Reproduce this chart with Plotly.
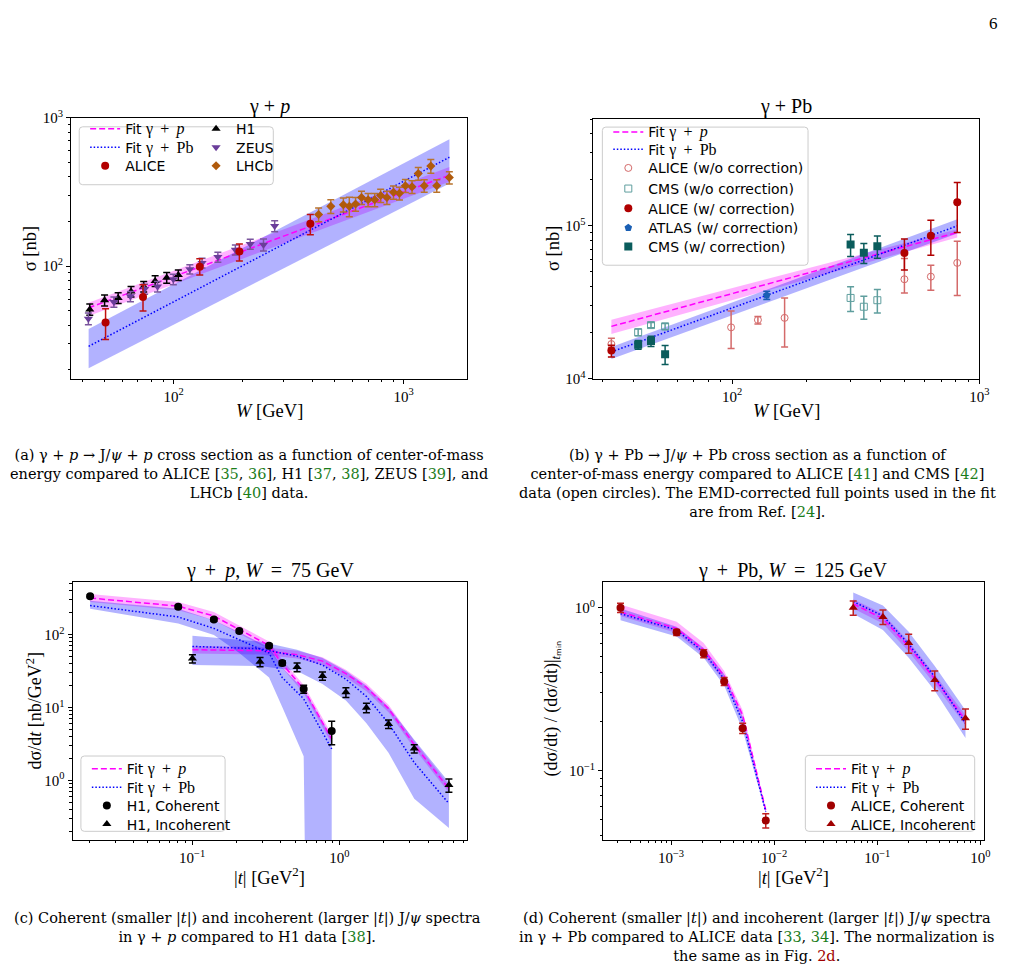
import numpy as np
import plotly.graph_objects as go

# ---------------- Panel (a): gamma + p, sigma vs W ----------------
a_fit_W = [42.7, 1580.0]
a_fit_p = [52.4, 411.0]
a_fit_p_lo = [46.1, 372.0]
a_fit_p_hi = [56.6, 467.0]
a_fit_pb = [28.8, 543.0]
a_fit_pb_lo = [20.5, 361.0]
a_fit_pb_hi = [37.7, 718.0]

a_h1_W = [43.2, 50.1, 57.4, 65.3, 74.1, 83.1, 93.3, 104.8]
a_h1_sig = [51.1, 58.9, 61.1, 67.6, 73.0, 79.6, 83.7, 87.2]
a_h1_err = [4.5, 5.0, 5.0, 5.5, 6.0, 6.5, 7.0, 7.0]

a_zeus_W = [42.6, 55.0, 64.9, 74.8, 85.1, 99.7, 117.6, 132.9, 155.7, 185.5, 215.3, 245.8, 274.9]
a_zeus_sig = [44.3, 57.4, 62.6, 70.1, 73.0, 81.6, 95.5, 105.2, 115.3, 128.9, 141.3, 139.8, 186.8]
a_zeus_err = [4.0, 4.5, 5.0, 5.5, 6.0, 6.5, 7.0, 8.0, 9.0, 10.0, 11.0, 13.0, 16.0]

a_alice_W = [50.6, 73.6, 129.9, 193.1, 392.8]
a_alice_sig = [41.7, 62.0, 99.0, 125.7, 193.6]
a_alice_eplus = [10.0, 12.9, 13.4, 15.6, 29.4]
a_alice_eminus = [9.7, 12.2, 11.8, 17.2, 30.7]

a_lhcb_W = [426.7, 482.2, 546.7, 580.2, 617.8, 655.6, 700.3, 748.2, 794.0, 845.5,
            903.0, 958.5, 1017.0, 1087.0, 1157.0, 1228.0, 1312.0, 1392.0, 1579.0]
a_lhcb_sig = [223.3, 253.5, 260.0, 253.5, 262.7, 290.8, 280.6, 280.6, 299.8, 290.8,
              315.4, 310.6, 349.1, 343.9, 421.4, 349.1, 473.7, 349.1, 396.4]
a_lhcb_err = [24, 27, 28, 38, 28, 30, 29, 29, 31, 30,
              32, 31, 35, 34, 42, 34, 50, 34, 38]

# ---------------- Panel (b): gamma + Pb, sigma vs W ----------------
b_fit_W = [32.5, 814.0]
b_fit_p = [22020, 90600]
b_fit_p_lo = [19660, 84100]
b_fit_p_hi = [24300, 95200]
b_fit_pb = [14990, 100000]
b_fit_pb_lo = [13450, 89300]
b_fit_pb_hi = [16150, 110400]

b_alice_raw_W = [32.5, 99.1, 127.2, 163.1, 497.7, 636.6, 814.0]
b_alice_raw_sig = [16870, 21700, 24300, 25030, 44780, 46580, 57300]
b_alice_raw_eplus = [1570, 6060, 1240, 8770, 16320, 8720, 22000]
b_alice_raw_eminus = [930, 5920, 1500, 8880, 8370, 8680, 22200]

b_cms_raw_W = [41.7, 47.0, 53.6, 301.5, 341.1, 386.8]
b_cms_raw_sig = [20150, 22450, 22020, 33800, 29600, 32660]
b_cms_raw_err = [1000, 900, 1000, 6200, 5100, 5700]

b_alice_W = [32.5, 497.7, 636.6, 814.0]
b_alice_sig = [15290, 66440, 86260, 142600]
b_alice_eplus = [1260, 15690, 22440, 50000]
b_alice_eminus = [1390, 15040, 22060, 52000]

b_atlas_W = [138.1]
b_atlas_sig = [35160]
b_atlas_err = [2150]

b_cms_W = [41.7, 47.0, 53.6, 301.5, 341.1, 386.8]
b_cms_sig = [16700, 17640, 14480, 75500, 66770, 73670]
b_cms_err = [1100, 1350, 2060, 12500, 9900, 12300]

# ---------------- Panel (c): gamma + p, W = 75 GeV, dsigma/dt ----------------
c_coh_t = [0.0203, 0.0805, 0.1406, 0.2092, 0.3332, 0.4093, 0.5723, 0.8872]
c_coh_fit_p = [317.7, 245.5, 180.0, 117.8, 71.0, 39.8, 17.98, 3.70]
c_coh_fit_p_lo = [280.0, 216.0, 158.0, 104.0, 62.5, 35.0, 15.8, 3.2]
c_coh_fit_p_hi = [360.0, 279.0, 204.0, 134.0, 80.5, 45.2, 20.4, 4.3]
c_coh_fit_pb = [250.4, 174.5, 121.6, 84.7, 56.0, 25.8, 13.2, 2.72]
c_coh_fit_pb_lo = [225.9, 142.0, 98.9, 56.0, 25.8, 10.2, 2.16, 0.0]
c_coh_fit_pb_hi = [292.4, 225.9, 157.4, 107.4, 66.8, 35.2, 17.98, 3.9]

c_inc_t = [0.1005, 0.2894, 0.5161, 0.7684, 1.108, 1.527, 2.157, 3.226, 5.546]
c_inc_fit_p = [62.1, 60.3, 53.2, 43.3, 29.2, 18.9, 9.67, 3.1, 0.77]
c_inc_fit_p_lo = [55.0, 53.5, 47.2, 38.4, 25.9, 16.8, 8.6, 2.75, 0.68]
c_inc_fit_p_hi = [70.0, 68.0, 60.0, 49.0, 33.0, 21.3, 10.9, 3.5, 0.87]
c_inc_fit_pb = [68.9, 64.0, 50.5, 38.2, 24.5, 14.2, 6.08, 1.76, 0.484]
c_inc_fit_pb_lo = [38.2, 37.1, 31.7, 21.0, 12.5, 6.08, 2.40, 0.565, 0.223]
c_inc_fit_pb_hi = [96.8, 80.4, 62.1, 48.0, 31.7, 19.9, 10.2, 3.63, 0.947]

c_h1_coh_t = [0.0203, 0.0805, 0.1406, 0.2092, 0.3332, 0.4093, 0.5723, 0.8872]
c_h1_coh_val = [334.5, 240.4, 160.7, 111.9, 70.3, 40.7, 17.98, 4.79]
c_h1_coh_err = [15.0, 12.0, 8.0, 6.0, 4.0, 3.0, 2.2, 1.7]

c_h1_inc_t = [0.1005, 0.2894, 0.5161, 0.7684, 1.108, 1.527, 2.157, 3.226, 5.546]
c_h1_inc_val = [46.99, 42.4, 35.9, 27.2, 16.2, 9.98, 5.95, 2.74, 0.871]
c_h1_inc_err = [6.0, 6.0, 5.0, 3.5, 2.5, 1.5, 0.8, 0.35, 0.18]

# ---------------- Panel (d): gamma + Pb, W = 125 GeV, normalised ----------------
d_coh_t = [3.235e-4, 1.133e-3, 2.074e-3, 3.275e-3, 4.95e-3, 8.29e-3]
d_coh_val = [1.0, 0.707, 0.5235, 0.3533, 0.1824, 0.0495]
d_coh_err = [0.065, 0.03, 0.03, 0.02, 0.013, 0.005]
d_coh_fit_p = [0.942, 0.747, 0.553, 0.382, 0.2195, 0.0574]
d_coh_fit_p_lo = [0.89, 0.70, 0.51, 0.355, 0.205, 0.0555]
d_coh_fit_p_hi = [1.047, 0.82, 0.607, 0.41, 0.235, 0.0588]
d_coh_fit_pb = [0.92, 0.730, 0.533, 0.365, 0.2, 0.0561]
d_coh_fit_pb_lo = [0.839, 0.666, 0.493, 0.333, 0.178, 0.0549]
d_coh_fit_pb_hi = [0.99, 0.765, 0.566, 0.391, 0.2146, 0.0574]

d_inc_t = [0.0585, 0.1136, 0.2020, 0.3615, 0.7178]
d_inc_val = [1.0, 0.879, 0.607, 0.36, 0.2096]
d_inc_err = [0.1, 0.09, 0.08, 0.05, 0.03]
d_inc_fit_p = [1.057, 0.858, 0.579, 0.365, 0.205]
d_inc_fit_p_lo = [0.99, 0.80, 0.54, 0.34, 0.19]
d_inc_fit_p_hi = [1.13, 0.92, 0.62, 0.39, 0.22]
d_inc_fit_pb = [1.092, 0.891, 0.598, 0.377, 0.1955]
d_inc_fit_pb_lo = [0.92, 0.73, 0.493, 0.31, 0.1588]
d_inc_fit_pb_hi = [1.243, 1.033, 0.714, 0.439, 0.235]

# ---------------- styling ----------------
W_PX, H_PX = 1024, 979
PINK = '#ff00ff'
BLUE = '#0000ff'
PINK_BAND = 'rgba(255,0,255,0.30)'
BLUE_BAND = 'rgba(0,0,255,0.30)'
SERIF = 'Liberation Serif'
CAP_SERIF = 'DejaVu Serif'
SANS = 'DejaVu Sans'
GREEN = '#1b7d1b'
DARKRED = '#a00000'
TS = '\u2009'


def px(x):
    return x / W_PX


def py(y):
    return 1 - y / H_PX


FIT_P = f"Fit <span style='font-family:Liberation Serif;font-size:16px'>γ{TS} +{TS} <i>p</i></span>"
FIT_PB = f"Fit <span style='font-family:Liberation Serif;font-size:16px'>γ{TS} +{TS} Pb</span>"

fig = go.Figure()

# each legend row is its own legend box so that rows sit exactly where the reference puts them
legend_rows = {}   # legend id -> (text-left px, row-centre px)
_leg_counter = [0]


def new_legend(x_text, y_center):
    _leg_counter[0] += 1
    n = _leg_counter[0]
    lid = 'legend' if n == 1 else f'legend{n}'
    legend_rows[lid] = (x_text, y_center)
    return lid


def add_band(x, lo, hi, color, xa, ya):
    lo = np.clip(np.asarray(lo, dtype=float), 1e-30, None)
    hi = np.asarray(hi, dtype=float)
    xs = list(x) + list(x)[::-1]
    ys = list(hi) + list(lo[::-1])
    fig.add_trace(go.Scatter(x=xs, y=ys, mode='lines', fill='toself', fillcolor=color,
                             line=dict(width=0, color=color), showlegend=False,
                             hoverinfo='skip', xaxis=xa, yaxis=ya))


def add_line(x, y, color, dash, name, legend, xa, ya):
    fig.add_trace(go.Scatter(x=x, y=y, mode='lines', name=name,
                             line=dict(color=color, width=1.5, dash=dash),
                             showlegend=legend is not None, legend=legend or 'legend',
                             xaxis=xa, yaxis=ya))


def add_data(x, y, ep, em, symbol, color, size, name, legend, xa, ya,
             ecolor=None, lw=0):
    fig.add_trace(go.Scatter(
        x=x, y=y, mode='markers', name=name,
        marker=dict(symbol=symbol, size=size, color=color,
                    line=dict(width=lw, color=color)),
        error_y=dict(type='data', array=ep, arrayminus=em, symmetric=False,
                     color=ecolor or color, thickness=1.5, width=3.5),
        legend=legend, xaxis=xa, yaxis=ya))


DASH_P = '6px,3px'
DASH_PB = '1.5px,2px'

# vertical correction for the per-row legends (empirical, from earlier renders)
DY_TOP = -7
DY_BOT = 4

# Panel (a)
la1 = [new_legend(121, y + DY_TOP) for y in (128.3, 147.3, 166.0)]
la2 = [new_legend(233, y + DY_TOP) for y in (128.3, 147.3, 166.0)]
add_band(a_fit_W, a_fit_p_lo, a_fit_p_hi, PINK_BAND, 'x', 'y')
add_band(a_fit_W, a_fit_pb_lo, a_fit_pb_hi, BLUE_BAND, 'x', 'y')
add_line(a_fit_W, a_fit_p, PINK, DASH_P, FIT_P, la1[0], 'x', 'y')
add_line(a_fit_W, a_fit_pb, BLUE, DASH_PB, FIT_PB, la1[1], 'x', 'y')
add_data(a_h1_W, a_h1_sig, a_h1_err, a_h1_err, 'triangle-up', 'black', 8,
         'H1', la2[0], 'x', 'y')
add_data(a_zeus_W, a_zeus_sig, a_zeus_err, a_zeus_err, 'triangle-down', '#6a3d9a', 8,
         'ZEUS', la2[1], 'x', 'y', ecolor='#7a559e')
add_data(a_lhcb_W, a_lhcb_sig, a_lhcb_err, a_lhcb_err, 'diamond', '#b05a0c', 7,
         'LHCb', la2[2], 'x', 'y', ecolor='#b8732e')
add_data(a_alice_W, a_alice_sig, a_alice_eplus, a_alice_eminus, 'circle', '#b30000', 8,
         'ALICE', la1[2], 'x', 'y', ecolor='#c01010')

# Panel (b)
lb = [new_legend(649.3, y + DY_TOP + 1) for y in (130.7, 148.3, 167.3, 188.3, 208.3, 228.3, 247.3)]
add_band(b_fit_W, b_fit_p_lo, b_fit_p_hi, PINK_BAND, 'x2', 'y2')
add_band(b_fit_W, b_fit_pb_lo, b_fit_pb_hi, BLUE_BAND, 'x2', 'y2')
add_line(b_fit_W, b_fit_p, PINK, DASH_P, FIT_P, lb[0], 'x2', 'y2')
add_line(b_fit_W, b_fit_pb, BLUE, DASH_PB, FIT_PB, lb[1], 'x2', 'y2')
add_data(b_alice_raw_W, b_alice_raw_sig, b_alice_raw_eplus, b_alice_raw_eminus,
         'circle-open', '#d46a6a', 7, 'ALICE (w/o correction)', lb[2], 'x2', 'y2', lw=1)
add_data(b_cms_raw_W, b_cms_raw_sig, b_cms_raw_err, b_cms_raw_err,
         'square-open', '#5f9e9e', 7, 'CMS (w/o correction)', lb[3], 'x2', 'y2', lw=1)
add_data(b_alice_W, b_alice_sig, b_alice_eplus, b_alice_eminus,
         'circle', '#b00000', 8, 'ALICE (w/ correction)', lb[4], 'x2', 'y2')
add_data(b_atlas_W, b_atlas_sig, b_atlas_err, b_atlas_err,
         'pentagon', '#1a5fb4', 8, 'ATLAS (w/ correction)', lb[5], 'x2', 'y2')
add_data(b_cms_W, b_cms_sig, b_cms_err, b_cms_err,
         'square', '#0a5c5c', 8, 'CMS (w/ correction)', lb[6], 'x2', 'y2')

# Panel (c)
lc = [new_legend(122.7, y + DY_BOT) for y in (769.3, 788.3, 806.7, 825.7)]
add_band(c_coh_t, c_coh_fit_p_lo, c_coh_fit_p_hi, PINK_BAND, 'x3', 'y3')
add_band(c_inc_t, c_inc_fit_p_lo, c_inc_fit_p_hi, PINK_BAND, 'x3', 'y3')
add_band(c_coh_t, c_coh_fit_pb_lo, c_coh_fit_pb_hi, BLUE_BAND, 'x3', 'y3')
add_band(c_inc_t, c_inc_fit_pb_lo, c_inc_fit_pb_hi, BLUE_BAND, 'x3', 'y3')
add_line(c_coh_t, c_coh_fit_p, PINK, DASH_P, FIT_P, lc[0], 'x3', 'y3')
add_line(c_inc_t, c_inc_fit_p, PINK, DASH_P, FIT_P, None, 'x3', 'y3')
add_line(c_coh_t, c_coh_fit_pb, BLUE, DASH_PB, FIT_PB, lc[1], 'x3', 'y3')
add_line(c_inc_t, c_inc_fit_pb, BLUE, DASH_PB, FIT_PB, None, 'x3', 'y3')
add_data(c_h1_coh_t, c_h1_coh_val, c_h1_coh_err, c_h1_coh_err, 'circle', 'black', 8,
         'H1, Coherent', lc[2], 'x3', 'y3')
add_data(c_h1_inc_t, c_h1_inc_val, c_h1_inc_err, c_h1_inc_err, 'triangle-up', 'black', 8,
         'H1, Incoherent', lc[3], 'x3', 'y3')

# Panel (d)
ld = [new_legend(854, y + DY_BOT) for y in (769.3, 788.3, 806.7, 825.7)]
add_band(d_coh_t, d_coh_fit_p_lo, d_coh_fit_p_hi, PINK_BAND, 'x4', 'y4')
add_band(d_inc_t, d_inc_fit_p_lo, d_inc_fit_p_hi, PINK_BAND, 'x4', 'y4')
add_band(d_coh_t, d_coh_fit_pb_lo, d_coh_fit_pb_hi, BLUE_BAND, 'x4', 'y4')
add_band(d_inc_t, d_inc_fit_pb_lo, d_inc_fit_pb_hi, BLUE_BAND, 'x4', 'y4')
add_line(d_coh_t, d_coh_fit_p, PINK, DASH_P, FIT_P, ld[0], 'x4', 'y4')
add_line(d_inc_t, d_inc_fit_p, PINK, DASH_P, FIT_P, None, 'x4', 'y4')
add_line(d_coh_t, d_coh_fit_pb, BLUE, DASH_PB, FIT_PB, ld[1], 'x4', 'y4')
add_line(d_inc_t, d_inc_fit_pb, BLUE, DASH_PB, FIT_PB, None, 'x4', 'y4')
add_data(d_coh_t, d_coh_val, d_coh_err, d_coh_err, 'circle', '#a00000', 8,
         'ALICE, Coherent', ld[2], 'x4', 'y4', ecolor='#c02020')
add_data(d_inc_t, d_inc_val, d_inc_err, d_inc_err, 'triangle-up', '#a00000', 8,
         'ALICE, Incoherent', ld[3], 'x4', 'y4', ecolor='#c02020')


# ---------------- axes ----------------
def sup(p):
    return '10<sup>' + (str(p) if p >= 0 else '\u2212' + str(-p)) + '</sup>'


def minors(lo_exp, hi_exp, vmin, vmax):
    out = []
    for e in range(lo_exp, hi_exp + 1):
        for m in range(2, 10):
            v = m * 10.0 ** e
            if vmin <= v <= vmax:
                out.append(v)
    return out


def log_axis(domain, vmin, vmax, major_exps, anchor):
    majors = [10.0 ** e for e in major_exps]
    return dict(
        type='log', domain=domain, range=[np.log10(vmin), np.log10(vmax)],
        anchor=anchor, showgrid=False, zeroline=False,
        showline=True, linecolor='black', linewidth=1, mirror=True,
        ticks='outside', ticklen=4, tickwidth=1, tickcolor='black',
        tickmode='array', tickvals=majors, ticktext=[sup(e) for e in major_exps],
        tickfont=dict(family=SERIF, size=15, color='black'),
        minor=dict(ticks='outside', ticklen=2.2, tickwidth=0.8, tickcolor='black',
                   tickmode='array',
                   tickvals=minors(int(np.floor(np.log10(vmin))), int(np.ceil(np.log10(vmax))), vmin, vmax),
                   showgrid=False),
    )


a_xr, a_yr = (35.8, 1886.0), (17.4, 1000.0)
b_xr, b_yr = (27.5, 1000.0), (1.0e4, 5.03e5)
c_xr, c_yr = (0.01543, 7.37), (0.1524, 526.5)
d_xr, d_yr = (2.19e-4, 1.076), (0.0375, 1.44)

fig.update_layout(
    xaxis=log_axis([px(71.7), px(471.7)], *a_xr, [2, 3], 'y'),
    yaxis=log_axis([py(375.7), py(110.0)], *a_yr, [2, 3], 'x'),
    xaxis2=log_axis([px(599.3), px(989.0)], *b_xr, [2, 3], 'y2'),
    yaxis2=log_axis([py(375.7), py(110.7)], *b_yr, [4, 5], 'x2'),
    xaxis3=log_axis([px(73.3), px(471.7)], *c_xr, [-1, 0], 'y3'),
    yaxis3=log_axis([py(845.7), py(582.7)], *c_yr, [0, 1, 2], 'x3'),
    xaxis4=log_axis([px(609.0), px(993.3)], *d_xr, [-3, -2, -1, 0], 'y4'),
    yaxis4=log_axis([py(845.7), py(582.7)], *d_yr, [-1, 0], 'x4'),
)

# ---------------- legends ----------------
TEXT_OFFSET = 35  # px between legend left edge and start of its text
leg_layout = {}
for lid, (xt, yc) in legend_rows.items():
    leg_layout[lid] = dict(x=px(xt - TEXT_OFFSET), y=py(yc), xanchor='left', yanchor='middle',
                           bgcolor='rgba(0,0,0,0)', borderwidth=0,
                           font=dict(family=SANS, size=14, color='black'),
                           itemwidth=30, tracegroupgap=0)
fig.update_layout(**leg_layout)


def rounded_box(x0, y0, x1, y1, r=3.5):
    X0, X1 = px(x0), px(x1)
    Y0, Y1 = py(y0), py(y1)
    rx, ry = r / W_PX, r / H_PX
    path = (f"M {X0 + rx} {Y0} L {X1 - rx} {Y0} Q {X1} {Y0} {X1} {Y0 - ry} "
            f"L {X1} {Y1 + ry} Q {X1} {Y1} {X1 - rx} {Y1} "
            f"L {X0 + rx} {Y1} Q {X0} {Y1} {X0} {Y1 + ry} "
            f"L {X0} {Y0 - ry} Q {X0} {Y0} {X0 + rx} {Y0} Z")
    return dict(type='path', path=path, xref='paper', yref='paper', layer='above',
                fillcolor='rgba(255,255,255,0.8)', line=dict(color='#cccccc', width=1))


fig.update_layout(shapes=[
    rounded_box(80, 119, 276, 178),
    rounded_box(608.3, 119.3, 816, 260),
    rounded_box(81.7, 760, 227.3, 836.7),
    rounded_box(813.3, 759.3, 984.3, 836.7),
])

# ---------------- text: titles, axis labels, captions ----------------
ann = []


def text(x, y, s, size, angle=0, family=SERIF, xanchor='center'):
    ann.append(dict(x=px(x), y=py(y), xref='paper', yref='paper', text=s,
                    showarrow=False, textangle=angle, xanchor=xanchor, yanchor='middle',
                    align='center',
                    font=dict(family=family, size=size, color='black')))


# titles
text(271.7, 98, 'γ + <i>p</i>', 20)
text(794, 98, 'γ + Pb', 20)
text(272.5, 571, f'γ {TS}+{TS} <i>p</i>, <i>W</i> {TS}={TS} 75 GeV', 20)
text(801, 571, f'γ {TS}+{TS} Pb, <i>W</i> {TS}={TS} 125 GeV', 20)
# x labels
text(271.7, 409, '<i>W</i> [GeV]', 18.5)
text(794, 409, '<i>W</i> [GeV]', 18.5)
text(272.5, 882, '|<i>t</i>| [GeV<sup>2</sup>]', 18.5)
text(801, 882, '|<i>t</i>| [GeV<sup>2</sup>]', 18.5)
# y labels
text(30, 243, 'σ [nb]', 18.5, angle=-90)
text(558, 243, 'σ [nb]', 18.5, angle=-90)
text(35, 714, 'dσ/d<i>t</i> [nb/GeV<sup>2</sup>]', 18, angle=-90)
text(558, 712, '(dσ/dt) / (dσ/dt)|<sub><i>t</i>ₘᵢₙ</sub>', 18, angle=-90)
# page number
text(1003, 14, '6', 17)


def G(s):
    return f"<span style='color:{GREEN}'>{s}</span>"


cap_size = 14.5
caption_a = [
    "(a) γ + <i>p</i> → J/<i>ψ</i> + <i>p</i> cross section as a function of center-of-mass",
    f"energy compared to ALICE [{G('35')}, {G('36')}], H1 [{G('37')}, {G('38')}], ZEUS [{G('39')}], and",
    f"LHCb [{G('40')}] data.",
]
caption_b = [
    "(b) γ + Pb → J/<i>ψ</i> + Pb cross section as a function of",
    f"center-of-mass energy compared to ALICE [{G('41')}] and CMS [{G('42')}]",
    "data (open circles). The EMD-corrected full points used in the fit",
    f"are from Ref. [{G('24')}].",
]
caption_c = [
    "(c) Coherent (smaller |<i>t</i>|) and incoherent (larger |<i>t</i>|) J/<i>ψ</i> spectra",
    f"in γ + <i>p</i> compared to H1 data [{G('38')}].",
]
caption_d = [
    "(d) Coherent (smaller |<i>t</i>|) and incoherent (larger |<i>t</i>|) J/<i>ψ</i> spectra",
    f"in γ + Pb compared to ALICE data [{G('33')}, {G('34')}]. The normalization is",
    f"the same as in Fig. <span style='color:{DARKRED}'>2d</span>.",
]
text(251, 473, '<br>'.join(caption_a), cap_size, family=CAP_SERIF)
text(765, 482, '<br>'.join(caption_b), cap_size, family=CAP_SERIF)
text(250, 935, '<br>'.join(caption_c), cap_size, family=CAP_SERIF)
text(764, 944, '<br>'.join(caption_d), cap_size, family=CAP_SERIF)

fig.update_layout(
    annotations=ann,
    width=W_PX, height=H_PX,
    margin=dict(l=0, r=0, t=0, b=0),
    paper_bgcolor='white', plot_bgcolor='white',
    showlegend=True,
)

fig.write_html('out.html')
